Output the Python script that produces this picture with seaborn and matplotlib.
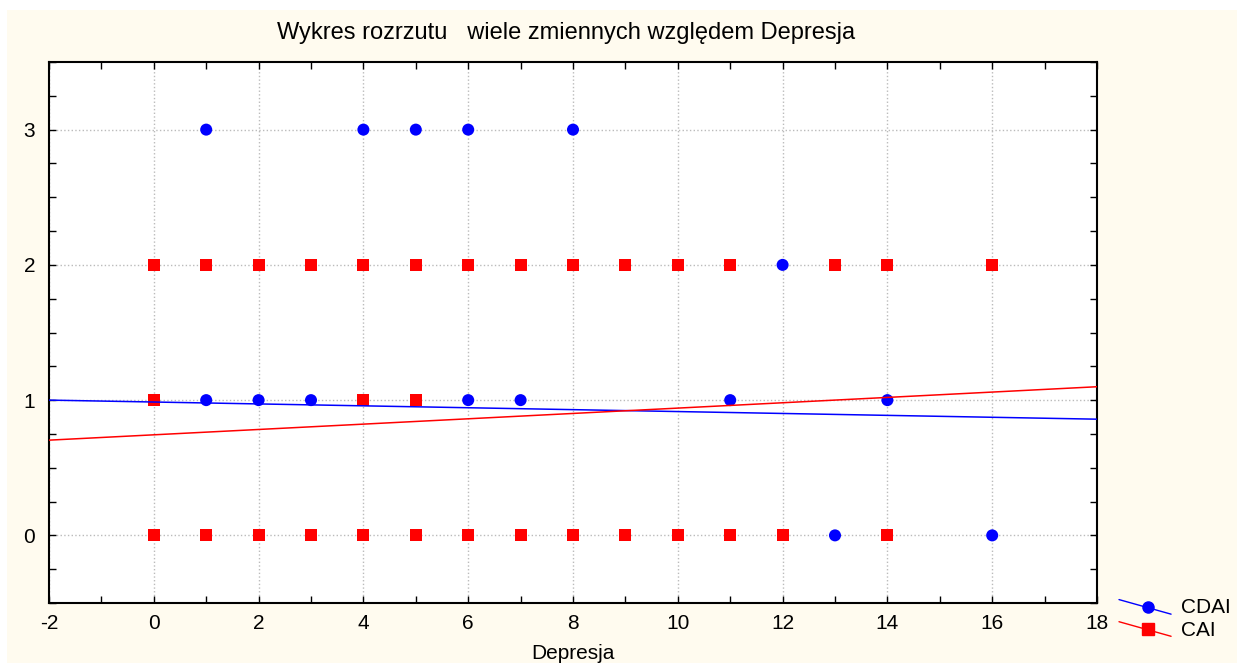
import numpy as np
import pandas as pd
import matplotlib
matplotlib.use("Agg")
import matplotlib.pyplot as plt
import seaborn as sns
from matplotlib.patches import Rectangle
from matplotlib.lines import Line2D
from matplotlib.legend_handler import HandlerBase
from matplotlib.ticker import MultipleLocator

# CDAI (blue circles)
cdai_x = [1, 4, 5, 6, 8, 12, 1, 2, 3, 6, 7, 11, 14, 13, 16]
cdai_y = [3, 3, 3, 3, 3, 2, 1, 1, 1, 1, 1, 1, 1, 0, 0]

# CAI (red squares)
cai_x = [0, 1, 2, 3, 4, 5, 6, 7, 8, 9, 10, 11, 13, 14, 16,
         0, 4, 5,
         0, 1, 2, 3, 4, 5, 6, 7, 8, 9, 10, 11, 12, 14]
cai_y = [2] * 15 + [1] * 3 + [0] * 14

# linear fits: (intercept, slope)
cdai_fit = (0.986, -0.00705)
cai_fit = (0.7435, 0.01975)

title = "Wykres rozrzutu   wiele zmiennych względem Depresja"
x_label = "Depresja"

df = pd.concat([
    pd.DataFrame({"Depresja": cdai_x, "value": cdai_y, "series": "CDAI"}),
    pd.DataFrame({"Depresja": cai_x, "value": cai_y, "series": "CAI"}),
])

sns.set_style("white")
plt.rcParams["font.family"] = ["Liberation Sans", "DejaVu Sans"]
plt.rcParams["axes.unicode_minus"] = False
plt.rcParams["text.color"] = "black"
plt.rcParams["axes.labelcolor"] = "black"
plt.rcParams["xtick.color"] = "black"
plt.rcParams["ytick.color"] = "black"

fig = plt.figure(figsize=(12.37, 6.63), dpi=100, facecolor="white")
fig.patches.append(Rectangle((7 / 1237, 0), 1, 1 - 10 / 663, transform=fig.transFigure,
                             facecolor="#FFFBEF", edgecolor="none", zorder=-10))
ax = fig.add_axes([49 / 1237, 60 / 663, (1097 - 49) / 1237, (603 - 62) / 663])
ax.set_facecolor("white")

colors = {"CDAI": "#0000FF", "CAI": "#FF0000"}
markers = {"CDAI": "o", "CAI": "s"}
sns.scatterplot(data=df, x="Depresja", y="value", hue="series", style="series",
                palette=colors, markers=markers, s=75, linewidth=0, ax=ax,
                legend=False, zorder=3)

xs = np.array([-2, 18])
for name, (b0, b1) in [("CDAI", cdai_fit), ("CAI", cai_fit)]:
    ax.plot(xs, b0 + b1 * xs, color=colors[name], lw=1.1, zorder=4)

ax.set_xlim(-2, 18)
ax.set_ylim(-0.5, 3.5)
ax.xaxis.set_major_locator(MultipleLocator(2))
ax.xaxis.set_minor_locator(MultipleLocator(1))
ax.yaxis.set_major_locator(MultipleLocator(1))
ax.yaxis.set_minor_locator(MultipleLocator(0.25))
ax.tick_params(which="both", direction="in", top=True, right=True,
               bottom=True, left=True, color="black", width=1, labelsize=15,
               length=5)
ax.tick_params(axis="x", pad=8)
ax.tick_params(axis="y", pad=10)
ax.grid(True, which="major", color="#bbbbbb", linestyle=":", linewidth=1)
for sp in ax.spines.values():
    sp.set_color("black")
    sp.set_linewidth(1.5)

ax.set_xlabel(x_label, fontsize=15, labelpad=8)
ax.set_ylabel("")
fig.text(566 / 1237, 1 - 33 / 663, title, ha="center", va="center", fontsize=17)


class SlantHandler(HandlerBase):
    def create_artists(self, legend, orig, xdescent, ydescent, width, height,
                       fontsize, trans):
        c = orig.get_color()
        line = Line2D([-xdescent, width - xdescent],
                      [height * 0.95 - ydescent, -height * 0.05 - ydescent],
                      color=c, lw=1, transform=trans)
        mk = Line2D([width * 0.55 - xdescent], [height * 0.43 - ydescent],
                    marker=orig.get_marker(), color=c, ls="none",
                    markersize=orig.get_markersize(), transform=trans)
        return [line, mk]


handles = [Line2D([], [], color=colors[n], marker=markers[n], markersize=8, lw=1)
           for n in ["CDAI", "CAI"]]
fig.legend(handles, ["CDAI", "CAI"], loc="center left",
           bbox_to_anchor=(1119 / 1237, 1 - 619 / 663), frameon=False,
           fontsize=15, handlelength=2.5, handletextpad=0.5, labelspacing=0.15,
           borderpad=0, borderaxespad=0, handler_map={Line2D: SlantHandler()})

fig.savefig("out.png", dpi=100, facecolor=fig.get_facecolor())
